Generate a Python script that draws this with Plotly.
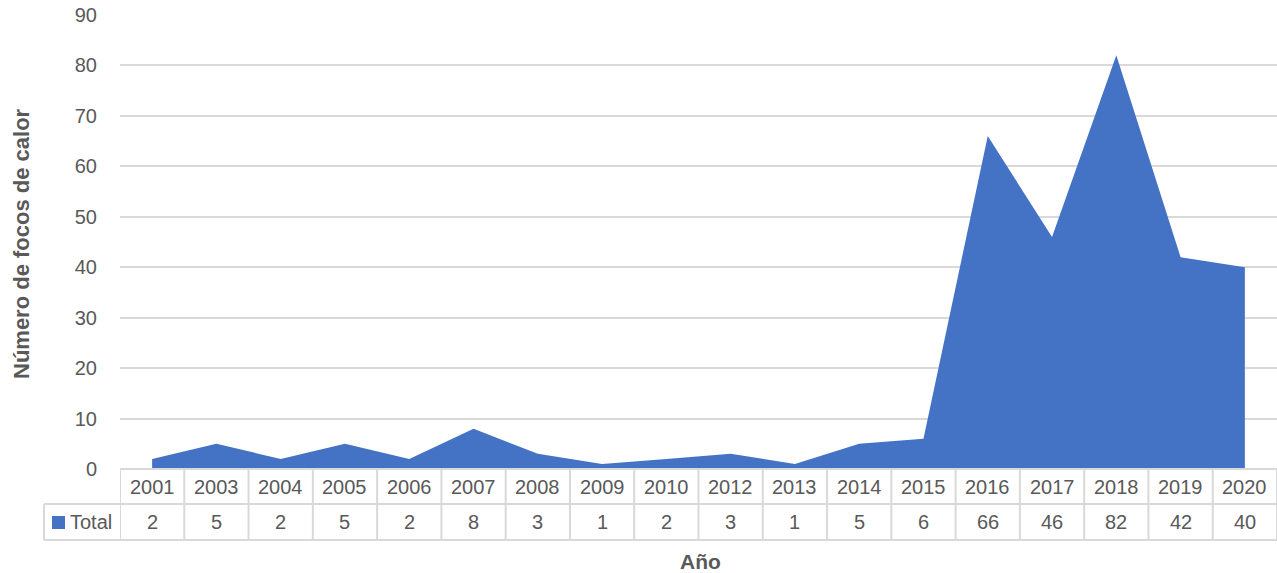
import plotly.graph_objects as go

years = ["2001", "2003", "2004", "2005", "2006", "2007", "2008", "2009", "2010",
         "2012", "2013", "2014", "2015", "2016", "2017", "2018", "2019", "2020"]
totals = [2, 5, 2, 5, 2, 8, 3, 1, 2, 3, 1, 5, 6, 66, 46, 82, 42, 40]
series_name = "Total"

BLUE = "#4472C4"
GRID = "#D9D9D9"
TEXT = "#595959"
FONT = "Liberation Sans, Arial, sans-serif"

W, H = 1277, 573
L, R, T, B = 120, 0, 15, 104
plot_w = W - L - R
plot_h = H - T - B

def px_x(p):
    return (p - L) / plot_w

def px_y(p):
    return (H - B - p) / plot_h

idx = list(range(len(years)))

fig = go.Figure()
fig.add_trace(go.Scatter(
    x=idx, y=totals, mode="lines", fill="tozeroy",
    fillcolor=BLUE, line=dict(color=BLUE, width=0),
    name=series_name, showlegend=False, hoverinfo="x+y",
))

# data table beneath the plot
row1_top = 0.0
row1_bot = px_y(504)
row2_bot = px_y(540)
legend_left = px_x(44)

shapes = []
line = dict(color=GRID, width=2)
n = len(years)
for k in range(n + 1):
    shapes.append(dict(type="line", xref="x", yref="paper", x0=k - 0.5, x1=k - 0.5,
                       y0=row1_top, y1=row2_bot, line=line))
shapes.append(dict(type="line", xref="x", yref="paper", x0=-0.5, x1=n - 0.5,
                   y0=row1_top, y1=row1_top, line=line))
for yy in (row1_bot, row2_bot):
    shapes.append(dict(type="line", xref="paper", yref="paper", x0=legend_left, x1=1,
                       y0=yy, y1=yy, line=line))
shapes.append(dict(type="line", xref="paper", yref="paper", x0=legend_left, x1=legend_left,
                   y0=row1_bot, y1=row2_bot, line=line))
# legend key
shapes.append(dict(type="rect", xref="paper", yref="paper",
                   x0=px_x(52), x1=px_x(65), y0=px_y(529), y1=px_y(516),
                   fillcolor=BLUE, line=dict(width=0)))

def label(x, y, text, xref="paper", xanchor="center", angle=0, size=20):
    return dict(x=x, y=y, xref=xref, yref="paper", text=text, showarrow=False,
                xanchor=xanchor, yanchor="middle", textangle=angle,
                font=dict(size=size, color=TEXT, family=FONT))

annotations = []
y_head = px_y(487)
y_val = px_y(522)
for i, (yr, v) in enumerate(zip(years, totals)):
    annotations.append(label(i, y_head, yr, xref="x"))
    annotations.append(label(i, y_val, str(v), xref="x"))
annotations.append(label(px_x(68), y_val, series_name, xanchor="left"))
annotations.append(label(px_x(700), px_y(561), "<b>Año</b>", size=21))
annotations.append(label(px_x(21), px_y(244), "<b>Número de focos de calor</b>",
                         angle=-90, size=22))

fig.update_layout(
    width=W, height=H,
    margin=dict(l=L, r=R, t=T, b=B),
    paper_bgcolor="white", plot_bgcolor="white",
    shapes=shapes, annotations=annotations,
    showlegend=False,
    xaxis=dict(range=[-0.5, n - 0.5], showticklabels=False, showgrid=False,
               zeroline=False, showline=False, fixedrange=True),
    yaxis=dict(range=[0, 90], dtick=10, showgrid=True, gridcolor=GRID, gridwidth=2,
               zeroline=False, showline=False, ticklabelstandoff=22,
               tickfont=dict(size=20, color=TEXT, family=FONT), fixedrange=True),
)

fig.write_html("out.html")
